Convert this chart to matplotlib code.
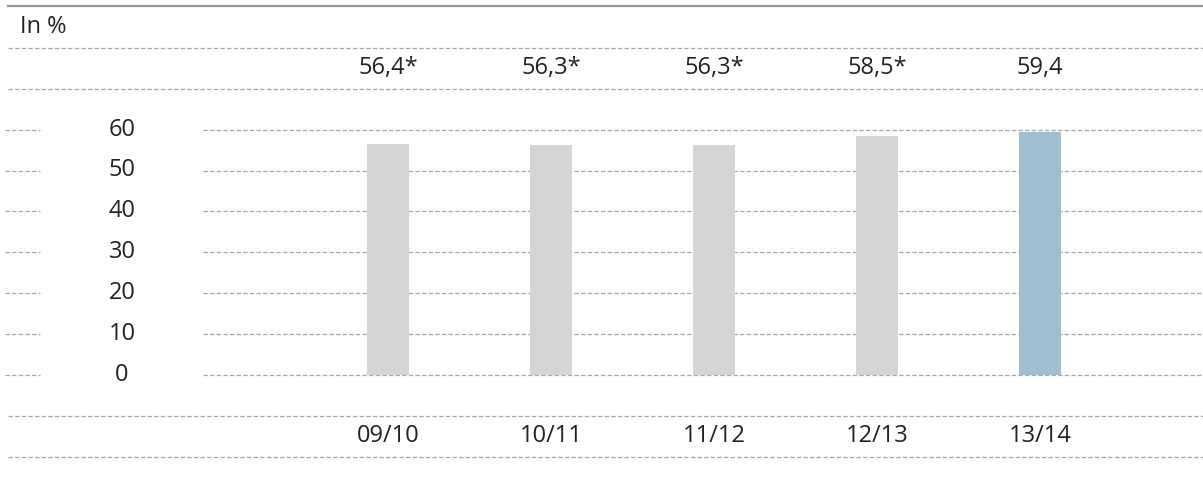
import matplotlib
matplotlib.use("Agg")
import matplotlib.pyplot as plt
import matplotlib.transforms as mtransforms

# data
seasons = ["09/10", "10/11", "11/12", "12/13", "13/14"]
values = [56.4, 56.3, 56.3, 58.5, 59.4]
provisional = [True, True, True, True, False]
yticks = [0, 10, 20, 30, 40, 50, 60]

grey = "#d4d5d7"
blue = "#a0bfce"
line_col = "#a8a8a8"
text_col = "#222222"

plt.rcParams['font.family'] = ['Open Sans', 'DejaVu Sans']
fs = 17

W, H = 1203, 491
fig = plt.figure(figsize=(W / 100, H / 100), dpi=100)
ax = fig.add_axes([0, 0, 1, 1])
ax.set_axis_off()

# pixel layout -> data limits (bar centres 388 + 163*i, zero at y=375, 4.09 px per unit)
ax.set_xlim(-388 / 163, (W - 388) / 163)
ax.set_ylim(-(H - 375) / 4.09, 375 / 4.09)

dash = dict(color=line_col, lw=0.9, ls=(0, (3.5, 1.8)))

# gridlines + short marks on the left
for t in yticks:
    ax.axhline(t, xmin=203 / W, xmax=1, zorder=1, **dash)
    ax.axhline(t, xmin=5 / W, xmax=40 / W, zorder=1, **dash)

# frame rows around the value row and the category row
for yy in [80, 70, -10, -20]:
    ax.axhline(yy, xmin=8 / W, xmax=1, zorder=1, **dash)
ax.axhline(90.2, xmin=8 / W, xmax=1, color="#9a9a9a", lw=1.6)

colors = [grey] * (len(values) - 1) + [blue]
xs = list(range(len(seasons)))
ax.bar(xs, values, width=42 / 163, color=colors, zorder=2)

blend = mtransforms.blended_transform_factory(ax.transAxes, ax.transData)
for t in yticks:
    ax.text(122 / W, t, str(t), transform=blend, ha='center', va='center',
            fontsize=fs, color=text_col)

for x, v, p in zip(xs, values, provisional):
    lab = f"{v:.1f}".replace(".", ",") + ("*" if p else "")
    ax.text(x, 75, lab, ha='center', va='center', fontsize=fs, color=text_col)
    ax.text(x, -14.8, seasons[x], ha='center', va='center', fontsize=fs, color=text_col)

ax.text(20 / W, 85.2, "In %", transform=blend, ha='left', va='center',
        fontsize=fs, color=text_col)

fig.savefig("out.png", dpi=100)
